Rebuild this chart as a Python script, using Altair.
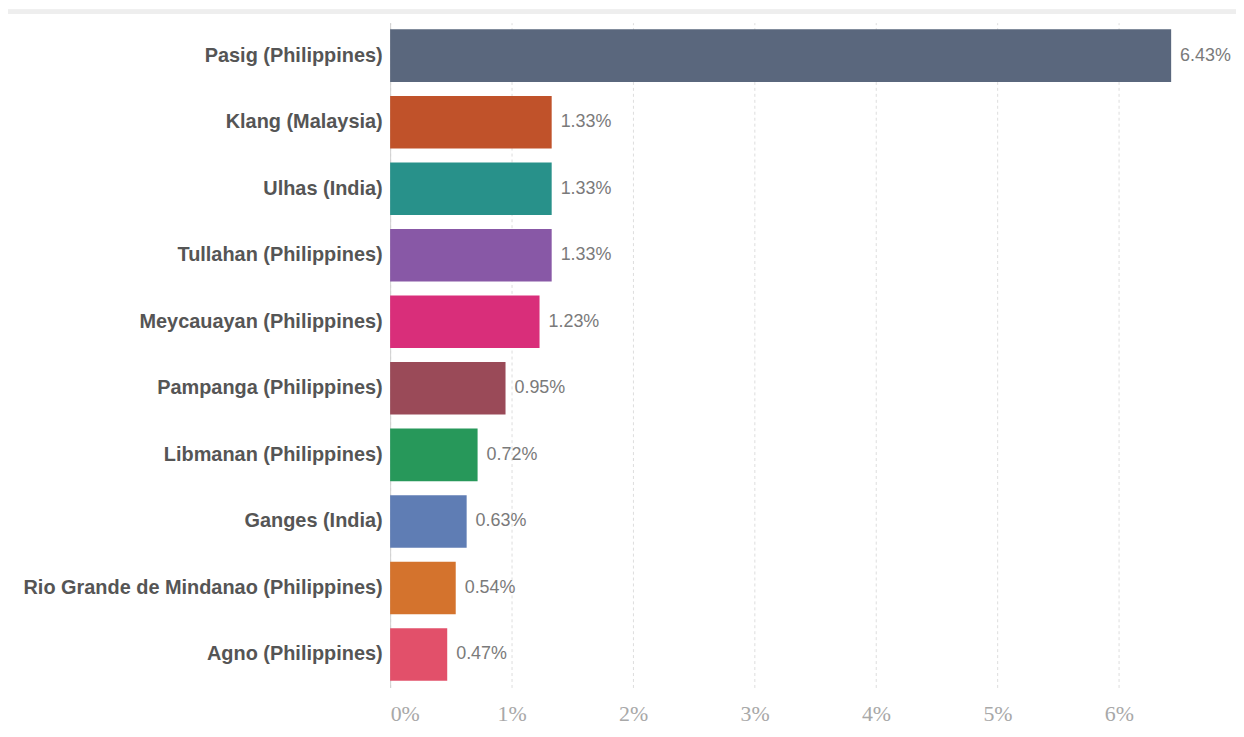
import altair as alt
import pandas as pd

rivers = [
    "Pasig (Philippines)",
    "Klang (Malaysia)",
    "Ulhas (India)",
    "Tullahan (Philippines)",
    "Meycauayan (Philippines)",
    "Pampanga (Philippines)",
    "Libmanan (Philippines)",
    "Ganges (India)",
    "Rio Grande de Mindanao (Philippines)",
    "Agno (Philippines)",
]
shares = [0.0643, 0.0133, 0.0133, 0.0133, 0.0123, 0.0095, 0.0072, 0.0063, 0.0054, 0.0047]
labels = ["6.43%", "1.33%", "1.33%", "1.33%", "1.23%", "0.95%", "0.72%", "0.63%", "0.54%", "0.47%"]
colors = ["#5a677d", "#c0522a", "#28918a", "#8858a6", "#d92e7a",
          "#9a4a58", "#27985a", "#5f7db4", "#d4732d", "#e2506a"]
ticks = [0, 0.01, 0.02, 0.03, 0.04, 0.05, 0.06]

df = pd.DataFrame({"river": rivers, "share": shares, "label": labels})

W, H = 830, 668

x_enc = alt.X(
    "share:Q",
    scale=alt.Scale(domain=[0, 0.068], nice=False, zero=True),
    axis=alt.Axis(
        values=ticks, format=".0%", title=None, domain=False, ticks=False,
        grid=True, gridDash=[3, 3], gridColor="#dddddd", gridWidth=1,
        labelFont="Liberation Sans Narrow", labelFontSize=22, labelColor="#a8a8a8",
        labelPadding=16, labelFlush=True,
    ),
)
y_enc = alt.Y(
    "river:N",
    sort=rivers,
    scale=alt.Scale(paddingInner=0.21, paddingOuter=0.1),
    axis=alt.Axis(
        title=None, ticks=False, domain=True, domainColor="#d0d0d0", domainWidth=1,
        labelFont="Liberation Sans", labelFontWeight="bold", labelFontSize=20,
        labelColor="#555555", labelPadding=8, labelLimit=400,
    ),
)

bars = alt.Chart(df).mark_bar().encode(
    x=x_enc,
    y=y_enc,
    color=alt.Color("river:N", sort=rivers,
                    scale=alt.Scale(domain=rivers, range=colors), legend=None),
)

text = alt.Chart(df).mark_text(
    align="left", baseline="middle", dx=9, font="Liberation Sans",
    fontSize=18, color="#7a7a7a",
).encode(
    x="share:Q",
    y=alt.Y("river:N", sort=rivers),
    text="label:N",
)

band = alt.Chart(df).mark_rect(color="#eeeeee").encode(
    x=alt.value(-384), x2=alt.value(W + 40), y=alt.value(-13), y2=alt.value(-9)
)

chart = alt.layer(band, bars, text).properties(
    width=W, height=H,
    autosize=alt.AutoSizeParams(type="none"),
    padding={"left": 384, "top": 13, "right": 20, "bottom": 40},
).configure(background="white").configure_view(stroke=None)

chart.save("out.html", embed_options={"renderer": "svg", "actions": False})
